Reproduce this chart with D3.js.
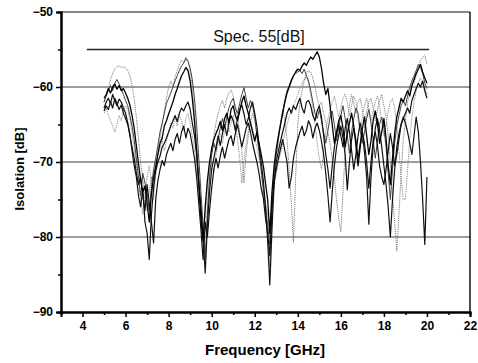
<!DOCTYPE html>
<html>
<head>
<meta charset="utf-8">
<script src="https://cdn.jsdelivr.net/npm/d3@7"></script>
<style>
  body { margin: 0; background: #fff; }
  svg { display: block; font-family: "Liberation Sans", Arial, sans-serif; }
</style>
</head>
<body>
<div id="chart"></div>
<script>
const width = 478;
const height = 363;
const margin = { top: 12, right: 8, bottom: 51, left: 61 };

// frequency points (GHz)
const freq = [
  5.0, 5.1, 5.2, 5.3, 5.4, 5.5, 5.6, 5.7, 5.8, 5.9,
  6.0, 6.1, 6.2, 6.3, 6.4, 6.5, 6.6, 6.7, 6.8, 6.9,
  7.0, 7.1, 7.2, 7.3, 7.4, 7.5, 7.6, 7.7, 7.8, 7.9,
  8.0, 8.1, 8.2, 8.3, 8.4, 8.5, 8.6, 8.7, 8.8, 8.9,
  9.0, 9.1, 9.2, 9.3, 9.4, 9.5, 9.6, 9.7, 9.8, 9.9,
  10.0, 10.1, 10.2, 10.3, 10.4, 10.5, 10.6, 10.7, 10.8, 10.9,
  11.0, 11.1, 11.2, 11.3, 11.4, 11.5, 11.6, 11.7, 11.8, 11.9,
  12.0, 12.1, 12.2, 12.3, 12.4, 12.5, 12.6, 12.7, 12.8, 12.9,
  13.0, 13.1, 13.2, 13.3, 13.4, 13.5, 13.6, 13.7, 13.8, 13.9,
  14.0, 14.1, 14.2, 14.3, 14.4, 14.5, 14.6, 14.7, 14.8, 14.9,
  15.0, 15.1, 15.2, 15.3, 15.4, 15.5, 15.6, 15.7, 15.8, 15.9,
  16.0, 16.1, 16.2, 16.3, 16.4, 16.5, 16.6, 16.7, 16.8, 16.9,
  17.0, 17.1, 17.2, 17.3, 17.4, 17.5, 17.6, 17.7, 17.8, 17.9,
  18.0, 18.1, 18.2, 18.3, 18.4, 18.5, 18.6, 18.7, 18.8, 18.9,
  19.0, 19.1, 19.2, 19.3, 19.4, 19.5, 19.6, 19.7, 19.8, 19.9,
  20.0
];

// isolation traces (dB)
const traceA = [
  -61.5, -61.0, -60.2, -60.8, -60.0, -59.6, -60.3, -59.8, -60.5, -60.2,
  -60.8, -61.5, -62.4, -63.8, -65.5, -67.8, -70.2, -72.5, -74.0, -73.2,
  -75.5, -78.0, -74.2, -72.0, -70.6, -69.0, -67.5, -66.8, -65.2, -64.5,
  -63.6, -62.8, -62.0, -61.0, -60.2, -59.3, -58.5, -58.0, -57.4, -57.8,
  -59.2, -61.5, -64.5, -68.5, -73.0, -77.5, -80.5, -76.0, -72.5, -70.0,
  -68.2, -67.0, -66.2, -65.5, -64.6, -65.8, -64.2, -63.5, -64.8, -63.0,
  -62.5, -63.8, -64.5, -63.2, -62.0, -61.2, -62.5, -63.5, -64.8, -66.0,
  -67.2, -66.0, -67.5, -69.0, -70.5, -72.8, -75.0, -79.5, -74.0, -70.5,
  -68.2, -66.5, -65.0, -63.5, -62.0, -60.8, -60.0, -59.2, -58.5, -58.0,
  -57.6, -57.8, -57.2, -56.8, -57.1, -56.5, -56.0, -56.3, -55.8, -55.3,
  -56.0, -57.5, -59.5, -61.0, -60.2, -62.5, -65.0, -67.5, -66.0, -64.5,
  -63.8, -65.5, -68.0, -66.2, -64.8, -63.5, -65.2, -67.8, -70.5, -68.0,
  -65.5, -64.0, -66.5, -69.0, -67.2, -64.5, -63.2, -64.8, -67.5, -66.0,
  -64.2, -66.8, -70.5, -73.0, -69.5, -66.2, -64.0, -62.8, -61.5, -62.0,
  -61.2, -60.5, -61.2, -59.8, -59.0, -58.2, -57.6, -57.0, -58.0, -58.8,
  -59.5
];
const traceB = [
  -62.8, -62.0, -61.5, -62.2, -61.0, -61.8, -62.5, -61.6, -62.0, -62.8,
  -63.5, -64.8, -66.2, -68.5, -70.5, -72.0, -74.5, -76.0, -73.5, -78.0,
  -79.5, -83.0, -77.0, -73.5, -71.2, -70.0, -69.2, -68.0, -67.5, -66.8,
  -66.0, -65.2, -64.5, -63.8, -64.6, -63.5, -62.8, -63.2, -62.5, -62.0,
  -63.0, -64.8, -66.5, -69.0, -72.5, -76.0, -80.0, -84.8, -78.5, -74.0,
  -71.0, -69.5, -68.0, -66.5, -67.8, -66.2, -65.0, -66.5, -64.8, -63.8,
  -64.5, -65.8, -64.2, -63.0, -62.4, -63.6, -65.0, -64.2, -62.8, -62.0,
  -63.5, -65.2, -67.8, -70.0, -72.5, -76.0, -80.5, -86.4, -79.0, -73.0,
  -70.0, -68.5, -67.2, -66.0, -64.8, -63.5, -62.8, -63.5, -62.5, -63.0,
  -62.2, -61.5, -62.8, -63.5, -62.0, -61.8, -62.5, -63.8, -64.5, -63.2,
  -62.5, -64.0, -66.5, -69.0, -71.0, -73.5, -70.5, -68.0, -66.2, -65.0,
  -66.5, -68.0, -65.5, -64.2, -66.0, -68.5, -71.0, -69.0, -66.5, -64.8,
  -66.2, -68.8, -72.0, -78.3, -72.0, -68.0, -65.5, -64.2, -65.8, -68.0,
  -70.5, -73.0, -76.0, -80.0, -75.0, -71.0, -68.0, -66.2, -65.0, -64.2,
  -63.5, -62.8, -63.5, -61.8, -61.0, -60.2, -59.5, -60.0, -59.2, -60.5,
  -61.5
];
const traceC = [
  -63.2, -62.5, -63.0, -62.0, -62.8, -61.5, -62.2, -63.0, -62.4, -63.5,
  -64.2, -65.0, -66.5, -68.0, -69.5, -71.5, -73.0, -72.0, -74.5, -76.5,
  -73.0, -75.5, -78.0, -80.8, -75.0, -72.5, -71.0, -69.8, -70.5, -69.0,
  -68.2, -67.5, -68.5, -67.0, -66.2, -67.5, -66.0, -65.2, -66.8, -65.5,
  -66.2, -67.8, -69.5, -72.0, -75.5, -79.0, -83.0, -78.0, -80.0, -76.5,
  -73.5, -71.0, -69.5, -70.8, -69.2, -68.0, -69.5, -68.2, -67.0, -66.5,
  -67.8, -66.2, -65.0, -66.5, -68.0, -66.8, -65.5, -64.8, -66.0, -67.5,
  -68.8, -70.0, -71.5, -73.5, -74.8, -77.5, -79.5, -82.5, -76.5, -72.5,
  -71.0, -69.5, -68.2, -67.0, -68.5, -70.0, -73.5, -72.0, -69.5, -68.0,
  -67.0, -66.0, -65.2, -66.5, -65.8, -64.5, -65.2, -66.8, -65.5, -64.8,
  -65.8, -67.2, -69.0, -71.5, -74.5, -78.0, -74.0, -70.5, -68.0, -66.5,
  -65.2, -66.8, -69.0, -73.7, -70.0, -67.0, -65.5, -67.0, -69.5, -67.5,
  -66.0, -67.5, -70.0, -73.5, -70.0, -67.2, -66.0, -67.8, -70.5, -72.0,
  -73.0, -71.0, -68.5, -66.2, -68.0, -70.5, -69.0, -67.0, -65.0, -64.0,
  -64.8, -66.0, -67.5, -69.0, -66.5, -64.0, -66.0, -70.0, -75.0, -81.0,
  -72.0
];
const traceD = [
  -62.0, -61.2, -60.5, -59.8, -60.5, -59.5, -59.0, -59.6, -60.2, -61.0,
  -61.8, -62.5, -63.8, -65.2, -67.0, -69.5, -72.0, -74.5, -71.5, -72.8,
  -74.0, -76.5, -73.5, -71.0, -69.5, -67.8, -66.0, -64.8, -63.5, -62.2,
  -61.5, -60.8, -60.0, -59.2, -58.5, -57.8, -57.2, -56.8, -56.2, -56.6,
  -57.5, -59.0, -61.5, -65.0, -69.5, -74.0, -78.5, -82.9, -77.0, -72.0,
  -69.0, -67.5, -68.5, -66.8, -65.5, -64.2, -65.5, -64.0, -62.8, -62.0,
  -61.5, -62.8, -63.5, -62.2, -61.0, -60.1, -61.5, -62.8, -61.8, -62.5,
  -64.0, -66.5, -68.5, -71.0, -73.5, -76.0, -78.5, -81.0, -75.5, -71.5,
  -69.0, -67.0, -65.0, -63.2, -61.8, -60.5, -59.8, -59.0, -58.5, -58.2,
  -58.0, -57.8, -58.2, -57.6, -58.5, -59.2, -60.5, -62.0, -63.5, -64.2,
  -63.0, -64.5, -66.0, -67.5, -65.8, -64.0, -63.2, -65.0, -67.2, -65.5,
  -63.8, -62.5, -64.2, -66.5, -68.8, -66.0, -64.2, -62.8, -63.5, -65.8,
  -67.5, -66.0, -64.2, -63.0, -64.8, -67.0, -69.5, -67.2, -65.0, -64.0,
  -65.5, -68.0, -71.5, -75.0, -71.0, -67.5, -65.2, -63.8, -62.5, -61.8,
  -62.5, -61.2, -60.0, -59.2, -58.5, -57.8, -57.0, -57.4, -58.2, -59.5,
  -60.2
];
const traceE = [
  -62.0, -61.0, -60.2, -59.0, -58.2, -57.6, -57.3, -57.2, -57.4, -57.3,
  -57.5, -57.8, -58.5, -59.8, -61.5, -64.0, -67.0, -70.0, -72.5, -74.0,
  -76.5, -74.0, -72.0, -73.5, -70.2, -68.5, -66.8, -65.0, -63.2, -61.5,
  -60.0, -59.2, -60.0, -58.6, -57.8, -57.0, -56.4, -56.8, -56.0, -56.5,
  -57.8, -60.0, -63.5, -67.5, -72.0, -76.0, -79.5, -77.0, -73.5, -70.5,
  -68.5, -66.5, -64.8, -63.5, -62.5, -61.8, -62.8, -61.5, -60.8, -60.4,
  -61.2, -62.5, -64.0, -66.0, -68.5, -72.8, -69.0, -66.5, -64.8, -63.5,
  -64.5, -66.0, -68.5, -71.5, -74.0, -77.0, -79.0, -84.0, -78.0, -72.5,
  -69.0, -66.5, -64.5, -63.0, -64.5, -67.0, -71.0, -75.5, -80.7, -72.0,
  -65.0, -62.0, -60.5, -59.2, -58.2, -57.8, -58.0, -58.8, -60.0, -61.5,
  -62.5, -62.0, -63.5, -64.8, -66.0, -67.5, -69.5, -72.0, -75.0, -77.5,
  -79.3, -74.0, -68.5, -65.0, -62.5, -61.0, -62.2, -63.5, -62.0, -61.5,
  -63.0, -65.5, -63.2, -62.0, -61.5, -62.8, -64.5, -63.0, -61.8, -61.0,
  -62.5, -64.0, -66.5, -70.0, -74.5, -78.0, -81.9, -77.0, -71.5, -67.0,
  -64.5, -62.0, -61.0, -60.0, -59.5, -58.5, -57.5, -56.5, -56.0, -55.7,
  -57.0
];
const traceF = [
  -63.5, -62.8, -63.8, -64.5, -65.2, -66.0, -65.0, -63.8, -64.5, -63.2,
  -62.5, -63.0, -64.5, -66.0, -68.0, -70.5, -72.8, -75.0, -77.0, -74.5,
  -72.0, -70.5, -72.5, -75.0, -71.5, -69.0, -68.2, -67.0, -68.5, -67.2,
  -66.0, -64.8, -65.5, -64.0, -65.2, -63.8, -64.5, -65.8, -64.2, -63.5,
  -64.8, -66.5, -68.5, -71.0, -74.5, -78.0, -82.0, -79.5, -76.0, -72.5,
  -70.0, -71.5, -69.0, -67.5, -66.2, -67.5, -65.8, -64.5, -66.0, -64.8,
  -63.8, -65.0, -67.0, -69.5, -72.8, -70.0, -67.5, -65.8, -64.5, -65.5,
  -66.8, -68.0, -69.5, -71.2, -73.0, -75.5, -77.0, -80.0, -76.5, -73.0,
  -71.5, -70.0, -68.8, -67.5, -66.2, -65.0, -64.0, -63.2, -62.5, -61.8,
  -61.0, -60.2, -59.5, -59.0, -58.6, -59.5, -61.0, -62.8, -65.0, -67.5,
  -69.5, -71.0, -68.5, -66.0, -64.2, -63.0, -62.0, -61.2, -62.5, -64.0,
  -62.8, -61.5, -60.9, -62.0, -63.8, -62.5, -61.2, -62.0, -64.5, -66.0,
  -64.0, -62.5, -61.5, -62.8, -64.5, -63.2, -62.0, -61.2, -62.5, -64.8,
  -66.5, -65.0, -63.2, -62.0, -61.5, -62.8, -65.0, -68.5, -72.0, -75.0,
  -75.0, -71.0, -67.0, -64.0, -62.0, -60.5, -59.5, -58.8, -59.5, -60.0,
  -61.0
];

const xTicks = [4, 6, 8, 10, 12, 14, 16, 18, 20, 22];
const yTicks = [-50, -60, -70, -80, -90];
const gridLevels = [-60, -70, -80];
const specLevel = -55;
const specRange = [4.2, 20.1];
const specLabel = "Spec. 55[dB]";

const traces = [
  { values: traceF, color: "#8c8c8c", width: 1, dash: "1.2,1" },
  { values: traceE, color: "#7a7a7a", width: 1, dash: "1.2,1" },
  { values: traceD, color: "#444", width: 1, dash: null },
  { values: traceC, color: "#111", width: 1.2, dash: null },
  { values: traceB, color: "#111", width: 1.2, dash: null },
  { values: traceA, color: "#000", width: 1.3, dash: null }
];

const svg = d3.select("#chart")
  .append("svg")
  .attr("width", width)
  .attr("height", height);

svg.append("rect")
  .attr("width", width)
  .attr("height", height)
  .attr("fill", "#fff");

const x = d3.scaleLinear()
  .domain([3, 22])
  .range([margin.left, width - margin.right]);
const y = d3.scaleLinear()
  .domain([-90, -50])
  .range([height - margin.bottom, margin.top]);

// grid lines
svg.selectAll(".grid")
  .data(gridLevels)
  .join("line")
  .attr("class", "grid")
  .attr("x1", x(3))
  .attr("x2", x(22))
  .attr("y1", d => y(d))
  .attr("y2", d => y(d))
  .attr("stroke", "#3a3a3a")
  .attr("stroke-width", 1.2);

// spec line
svg.append("line")
  .attr("x1", x(specRange[0]))
  .attr("x2", x(specRange[1]))
  .attr("y1", y(specLevel))
  .attr("y2", y(specLevel))
  .attr("stroke", "#222")
  .attr("stroke-width", 1.4);

svg.append("text")
  .attr("x", 259)
  .attr("y", y(specLevel) - 8)
  .attr("text-anchor", "middle")
  .style("font-size", "16px")
  .style("fill", "#111")
  .text(specLabel);

// traces
const line = d3.line()
  .x((d, i) => x(freq[i]))
  .y(d => y(d));

svg.selectAll(".trace")
  .data(traces)
  .join("path")
  .attr("class", "trace")
  .attr("d", d => line(d.values))
  .attr("fill", "none")
  .attr("stroke", d => d.color)
  .attr("stroke-width", d => d.width)
  .attr("stroke-dasharray", d => d.dash)
  .attr("stroke-linejoin", "round");

// frame (top and right)
svg.append("line")
  .attr("x1", x(3)).attr("x2", x(22))
  .attr("y1", y(-50)).attr("y2", y(-50))
  .attr("stroke", "#111").attr("stroke-width", 1.2);
svg.append("line")
  .attr("x1", x(22)).attr("x2", x(22))
  .attr("y1", y(-50)).attr("y2", y(-90))
  .attr("stroke", "#111").attr("stroke-width", 1.5);

// axes
const xAxis = d3.axisBottom(x)
  .tickValues(xTicks)
  .tickFormat(d3.format("d"))
  .tickSize(5)
  .tickPadding(4);
const xMinor = d3.axisBottom(x)
  .tickValues([3, 5, 7, 9, 11, 13, 15, 17, 19, 21])
  .tickFormat("")
  .tickSize(3);
const yAxis = d3.axisLeft(y)
  .tickValues(yTicks)
  .tickFormat(d3.format("d"))
  .tickSize(5)
  .tickPadding(3);
const yMinor = d3.axisLeft(y)
  .tickValues([-55, -65, -75, -85])
  .tickFormat("")
  .tickSize(3);

function styleAxis(g) {
  g.select(".domain").attr("stroke", "#000").attr("stroke-width", 2);
  g.selectAll(".tick line").attr("stroke", "#000").attr("stroke-width", 1.5);
  g.selectAll(".tick text")
    .attr("fill", "#000")
    .style("font-size", "12px")
    .style("font-weight", "bold")
    .style("font-family", "'Liberation Sans', Arial, sans-serif");
}

svg.append("g")
  .attr("transform", `translate(0,${y(-90)})`)
  .call(xMinor)
  .call(styleAxis);
svg.append("g")
  .attr("transform", `translate(0,${y(-90)})`)
  .call(xAxis)
  .call(styleAxis);
svg.append("g")
  .attr("transform", `translate(${x(3)},0)`)
  .call(yMinor)
  .call(styleAxis);
svg.append("g")
  .attr("transform", `translate(${x(3)},0)`)
  .call(yAxis)
  .call(styleAxis);

// axis titles
svg.append("text")
  .attr("x", 265)
  .attr("y", 355)
  .attr("text-anchor", "middle")
  .style("font-size", "15px")
  .style("font-weight", "bold")
  .style("fill", "#000")
  .text("Frequency [GHz]");

svg.append("text")
  .attr("transform", "rotate(-90)")
  .attr("x", -169)
  .attr("y", 24)
  .attr("text-anchor", "middle")
  .style("font-size", "13px")
  .style("font-weight", "bold")
  .style("fill", "#000")
  .text("Isolation [dB]");
</script>
</body>
</html>
